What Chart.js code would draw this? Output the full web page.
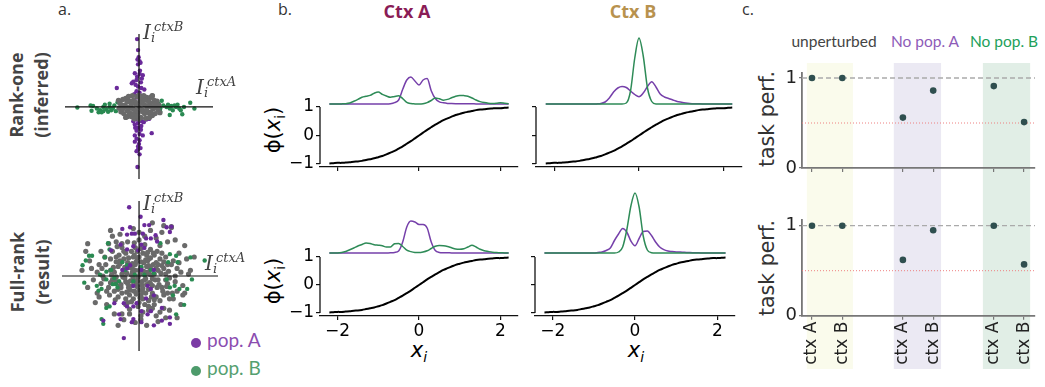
<!DOCTYPE html>
<html><head><meta charset="utf-8">
<script src="https://cdn.jsdelivr.net/npm/chart.js@4/dist/chart.umd.min.js"></script>
<style>
body{margin:0;width:1045px;height:387px;position:relative;background:#fff;overflow:hidden;font-family:'Open Sans',sans-serif}
canvas{position:absolute}
.t{position:absolute;white-space:nowrap;line-height:1}
.rot{position:absolute;white-space:nowrap;transform:translate(-50%,-50%) rotate(-90deg);text-align:center}
.ctr{transform:translateX(-50%)}
</style></head><body>
<div class="t" style="left:58px;top:1px;font-size:16px;color:#333">a.</div>
<div class="t" style="left:278px;top:1px;font-size:16px;color:#333">b.</div>
<div class="t" style="left:742px;top:1px;font-size:16px;color:#333">c.</div>
<div class="rot" style="left:29px;top:95px;font-weight:700;font-size:18px;line-height:25px;color:#444">Rank-one<br>(inferred)</div>
<div class="rot" style="left:30px;top:272px;font-weight:700;font-size:18px;line-height:25px;color:#444">Full-rank<br>(result)</div>
<div class="t ctr" style="left:407px;top:2px;font-weight:700;font-size:18px;color:#8a1c56">Ctx A</div>
<div class="t ctr" style="left:633px;top:2px;font-weight:700;font-size:18px;color:#b8924e">Ctx B</div>
<div class="rot" style="left:275px;top:130px;font-family:'DejaVu Sans';font-size:21px;line-height:1;color:#000">ϕ(<i>x</i><sub style="font-size:14px">i</sub>)</div>
<div class="rot" style="left:275px;top:281px;font-family:'DejaVu Sans';font-size:21px;line-height:1;color:#000">ϕ(<i>x</i><sub style="font-size:14px">i</sub>)</div>
<div class="t ctr" style="left:419px;top:340px;font-family:'DejaVu Sans';font-size:21px;color:#000"><i>x</i><sub style="font-size:14px;font-style:italic">i</sub></div>
<div class="t ctr" style="left:636px;top:340px;font-family:'DejaVu Sans';font-size:21px;color:#000"><i>x</i><sub style="font-size:14px;font-style:italic">i</sub></div>
<div class="rot" style="left:767px;top:119px;font-family:'DejaVu Sans';font-size:20.5px;line-height:1;color:#333">task perf.</div>
<div class="rot" style="left:767px;top:268px;font-family:'DejaVu Sans';font-size:20.5px;line-height:1;color:#333">task perf.</div>
<div class="t ctr" style="left:834px;top:34px;font-family:Lato;font-size:15.5px;color:#444">unperturbed</div>
<div class="t ctr" style="left:925px;top:34px;font-family:Lato;font-size:15.5px;color:#8e5cb8">No pop. A</div>
<div class="t ctr" style="left:1004px;top:34px;font-family:Lato;font-size:15.5px;color:#22a05a">No pop. B</div>
<div style="position:absolute;left:191px;top:338px;width:10px;height:10px;border-radius:50%;background:#7b3ba5"></div>
<div class="t" style="left:207px;top:330px;font-family:Lato;font-size:19px;line-height:20px;color:#8b4db0">pop. A</div>
<div style="position:absolute;left:191px;top:366px;width:10px;height:10px;border-radius:50%;background:#4d9b6b"></div>
<div class="t" style="left:207px;top:358px;font-family:Lato;font-size:19px;line-height:20px;color:#55a070">pop. B</div>
<script>
// ---------- DATA ----------
// panel a: (I_ctxA, I_ctxB) pairs, flat lists
const topGray=[0,0,0.3,0.1,-0.3,-0.1,0.6,0.2,-0.6,-0.2,0.9,0.0,-0.9,0.1,0.2,0.4,-0.2,-0.4,0.5,-0.3,-0.5,0.3,0.8,0.35,-0.8,-0.35,0.1,-0.55,-0.1,0.55,0.4,0.5,-0.4,-0.5,0.7,-0.45,-0.7,0.45,1.0,-0.15,-1.0,0.2,0.15,0.2,-0.15,-0.2,0.45,0.05,-0.45,-0.05,0.75,-0.1,-0.75,0.1,0.3,-0.35,-0.3,0.35,0.6,0.5,-0.6,-0.5,0.95,0.3,-0.95,-0.25,0.05,0.3,-0.05,-0.3,0.35,-0.6,-0.35,0.6,0.85,-0.35,-0.85,0.4,0.25,0.6,-0.25,-0.62,0.55,-0.55,-0.55,0.55,0.65,0.0,-0.65,0.0,0.15,-0.15,-0.15,0.15,1.05,0.1,-1.05,-0.05,0.5,0.3,-0.5,-0.3,0.2,-0.25,-0.2,0.25,0.7,0.6,-0.7,-0.55,0.0,0.62,0.0,-0.64,0.4,-0.15,-0.4,0.15,0.85,0.15,-0.85,-0.1,0.3,0.35,-0.3,-0.35,0.62,-0.28,-0.62,0.28,0.7,0.58,1.1,-0.3,-1.08,0.35,0.12,0.48,-0.12,-0.48];
const topPopA=[-0.10,3.58,-0.05,3.00,-0.02,2.62,-0.08,2.50,0.03,2.42,0.08,2.33,-0.05,2.25,0.05,1.92,-0.22,1.78,0.03,1.75,0.20,1.67,-0.10,1.60,0.15,1.50,-0.13,1.42,-0.30,1.33,0.10,1.30,-0.38,1.25,-0.18,1.17,-0.05,1.08,0.12,1.00,-1.17,1.00,0.28,0.92,-0.13,0.83,0.03,0.75,-0.25,0.67,0.15,0.58,-0.13,0.50,0.20,0.42,-0.08,-0.67,0.15,-0.75,0.37,-0.67,0.53,-0.63,-0.30,-0.75,0.25,-0.80,-0.05,-0.85,-0.22,-0.92,0.12,-1.00,-0.05,-1.08,-0.20,-1.10,0.10,-1.20,-0.13,-1.25,0.67,-1.38,0.03,-1.42,0.20,-1.50,-0.22,-1.50,-0.13,-1.67,0.03,-1.75,-0.22,-1.83,0.00,-1.95,-0.05,-2.08,0.08,-2.17,-0.05,-2.25,-0.13,-2.33,0.03,-2.50,-0.08,-3.17];
const topPopB=[-3.25,-0.03,-2.55,0.08,-2.42,0.05,-2.50,-0.20,-2.22,-0.08,-2.13,-0.28,-2.05,-0.17,-1.97,-0.28,-1.88,-0.22,-1.88,0.00,-1.80,0.12,-1.72,-0.12,-1.63,-0.25,-1.55,0.00,-1.55,0.17,-1.47,-0.17,-1.38,-0.08,-1.30,0.08,-1.22,-0.22,-1.13,0.25,-1.05,-0.08,0.95,0.00,1.03,0.17,1.12,-0.08,1.12,-0.25,1.20,0.33,1.28,0.08,1.45,0.00,1.53,0.12,1.62,-0.08,1.62,-0.42,1.70,0.05,1.78,-0.17,1.87,0.08,1.95,0.00,2.03,0.12,2.12,-0.08,2.20,-0.17,2.28,-0.38,2.37,0.00,2.70,0.22,2.92,-0.08];
const botGray=[0.05,0.1,-0.2,0.3,0.35,-0.15,-0.45,-0.25,0.6,0.4,-0.1,-0.55,0.25,0.7,-0.65,0.15,0.7,-0.5,-0.35,0.65,0.15,-0.3,-0.05,-0.05,0.45,0.2,-0.55,-0.6,0.1,0.45,-0.3,-0.1,0.5,-0.7,-0.75,0.45,0.3,0.05,-0.15,0.75,0.65,0.05,-0.4,0.05,0.2,-0.65,-0.7,-0.3,0.75,0.6,-0.25,-0.8,0.4,0.5,-0.6,0.7,0.0,0.3,0.55,-0.35,-0.15,-0.35,0.35,0.85,-0.85,-0.05,0.85,-0.2,0.0,-0.75,
1.0,0.3,-1.1,0.5,0.2,1.2,-0.3,-1.2,1.2,-0.6,-0.9,-0.9,0.8,1.1,-0.7,1.2,1.4,0.1,-1.4,-0.2,0.5,-1.3,-1.2,1.0,1.1,0.9,-0.2,1.5,0.9,-1.1,-1.5,0.3,1.5,0.6,-0.6,-1.4,0.0,1.0,1.3,-1.0,-1.0,-0.5,0.6,1.4,-1.3,-0.8,1.0,-0.2,-0.4,1.3,0.3,-1.5,-1.5,0.9,1.5,-0.4,-0.8,0.9,0.9,0.7,0.1,-1.0,-1.1,-1.1,1.2,1.2,-0.1,1.3,0.7,-0.9,-1.3,0.2,1.4,1.0,-0.9,1.5,0.4,1.1,-0.5,-1.0,1.6,-0.1,-1.6,-0.6,0.2,-1.2,-0.3,1.0,1.1,-1.3,-1.2,-0.3,0.5,0.9,-0.9,0.1,1.0,0.6,-0.7,-1.2,0.8,-1.5,-1.4,1.3,1.3,0.4,-1.0,0.8,0.0,-1.4,
2.0,0.4,-2.1,0.6,0.3,2.1,-0.5,-2.0,1.8,-1.2,-1.7,-1.5,1.5,1.8,-1.6,1.7,2.3,-0.5,-2.4,-0.2,0.9,-2.1,-1.0,2.2,2.1,1.2,-2.0,1.3,0.1,-2.3,1.2,2.3,-2.2,-0.9,2.5,0.9,-0.8,-2.3,1.6,-1.8,-1.9,0.0,0.6,2.4,-2.6,0.8,2.2,-1.5,-1.3,-2.0,1.9,0.0,-0.3,2.5,2.7,0.3,-2.8,1.3,0.4,-2.6,1.0,-2.4,-1.5,2.4,2.4,1.6,-2.3,-1.4,1.7,2.6,-2.7,1.7,2.9,1.0,-3.0,0.3,0.7,2.8,2.0,-2.2,-1.1,-2.6,1.3,-1.7,-1.8,1.0,1.8,0.8,-0.6,1.8,0.5,-1.8,-2.0,-0.4,2.2,0.2,1.5,-0.9,-1.2,1.8,1.3,2.65,1.7,2.55,2.3,-1.0,
0.25,0.25,-0.35,0.4,0.5,0.55,-0.6,-0.4,0.15,-0.5,-0.2,0.6,0.7,-0.15,-0.8,0.25,0.4,-0.45,-0.45,-0.75,0.9,0.4,-0.1,0.95,0.35,-0.9,-0.95,-0.45,0.6,0.95,-0.55,0.95,1.05,-0.45,-1.0,0.65,0.05,-1.15,1.15,0.15,-1.2,-0.05,0.45,1.25,-0.4,-1.35,1.25,-0.8,-1.1,-0.7,0.8,-1.25,-0.8,1.3,1.3,0.75,-1.35,0.45,0.1,1.45,-0.05,-1.6,1.55,0.25,-1.5,-0.35,0.65,-1.1,-0.65,-0.85,0.95,1.3,-1.05,1.1,1.45,-0.55,-1.25,-1.25,0.3,1.65,-0.25,1.75,1.7,0.6,-1.75,0.6,0.7,-1.7,-0.5,-1.75,1.6,-1.2,-1.55,-1.0,1.1,1.6,-1.15,1.55,1.9,-0.3,-1.85,-0.15,0.0,1.9,0.2,-1.9,-1.95,0.4,2.0,-0.8,
-0.35,0.2,0.55,0.1,-0.1,-0.25,0.3,-0.2,-0.55,0.45,0.8,0.1,-0.75,-0.1,0.1,0.75,-0.15,-0.95,0.45,0.8,-0.35,-0.5,0.95,-0.6,-0.95,-0.6,0.6,-0.4,-0.25,1.1,0.2,-0.85,1.2,0.55,-1.2,0.75,0.75,1.2,-0.7,-1.5,1.4,-0.2,-1.45,0.05,0.5,-1.6,-0.9,1.7,1.75,-0.9,-1.7,-0.8,2.1,0.7,-2.2,0.2,0.9,2.0,-0.9,-2.0,1.4,-2.2,-1.4,2.1,2.4,-0.9,-2.5,0.4,0.0,2.3,0.1,-2.1,1.9,1.9,-2.1,-1.1,2.6,0.1,-2.7,-0.6,1.1,-1.9,-0.2,-2.45];
const botPopA=[-0.52,3.62,0.08,3.12,0.53,2.68,0.28,2.68,1.28,2.95,1.45,2.57,1.70,2.60,1.62,2.32,-0.47,2.57,-0.38,2.23,-0.22,2.23,-0.63,2.18,-0.88,2.48,0.20,2.23,0.37,1.98,0.62,1.98,0.87,2.15,0.95,1.82,0.12,1.65,0.28,1.48,-0.05,1.35,-0.30,1.57,-0.63,1.40,-0.97,1.65,-1.47,1.35,-0.88,0.32,-0.63,0.40,-0.47,0.57,0.12,0.32,0.78,0.32,-0.30,-0.52,0.45,-0.52,0.62,-0.68,0.78,-1.02,0.37,-1.18,-0.80,-1.43,-0.63,-1.60,-0.30,-1.60,-0.13,-1.43,0.12,-1.85,0.62,-1.85,-1.30,-1.43,-1.05,-2.02,-0.97,-2.27,-0.38,-2.43,-0.30,-2.27,0.12,-2.43,0.78,-2.60,1.20,-2.35,1.62,-2.52,-1.88,-2.35,-0.80,-3.27,0.45,-2.02,1.20,-1.68,1.62,-2.18];
const botPopB=[-2.97,0.57,-2.80,0.82,-2.63,1.07,-2.47,1.07,-2.88,-0.35,-2.22,-0.52,-2.13,-0.77,-1.97,-0.68,-1.72,-1.68,-1.55,-1.60,-1.88,-2.52,-1.97,-2.27,-1.63,1.73,-1.55,1.40,-1.80,0.98,-1.72,0.23,-1.47,0.32,-1.38,-0.43,-1.22,-0.43,-1.13,-0.60,-1.05,-0.27,-1.72,-0.18,-1.30,-0.10,-0.88,0.73,-0.63,0.57,-0.72,0.32,0.12,0.48,0.62,0.32,0.78,0.15,0.28,0.07,1.12,1.73,1.53,0.73,1.62,1.15,1.95,1.07,2.03,0.73,2.70,0.98,3.45,0.82,1.45,-0.18,1.62,-0.60,1.87,-0.52,2.12,-0.68,2.37,-1.52,1.95,-2.02,2.53,-0.68,2.78,-0.18,1.78,-1.02,-2.05,0.07,-0.22,0.07,-0.30,-0.27];

// panel b: x grid, phi(x), population densities (arbitrary units)
const xGrid=[-2.2,-2.1,-2.0,-1.9,-1.8,-1.7,-1.6,-1.5,-1.4,-1.3,-1.2,-1.1,-1.0,-0.9,-0.8,-0.7,-0.6,-0.5,-0.4,-0.3,-0.2,-0.1,0,0.1,0.2,0.3,0.4,0.5,0.6,0.7,0.8,0.9,1.0,1.1,1.2,1.3,1.4,1.5,1.6,1.7,1.8,1.9,2.0,2.1,2.2];
const phiVals=[-0.98,-0.97,-0.96,-0.96,-0.95,-0.94,-0.92,-0.91,-0.89,-0.86,-0.83,-0.80,-0.76,-0.72,-0.66,-0.60,-0.54,-0.46,-0.38,-0.29,-0.20,-0.10,0,0.10,0.20,0.29,0.38,0.46,0.54,0.60,0.66,0.72,0.76,0.80,0.83,0.86,0.89,0.91,0.92,0.94,0.95,0.96,0.96,0.97,0.98];
const densA_rank1_popA=[0,0,0,0,0,0,0,0,0,0,0,0,0,0,0,0.3,1.4,4,14.7,24,27,23,19,24,25.5,13.3,5.5,2.2,1.2,0.6,0.4,0.3,0.3,0.2,0.2,0.2,0.1,0.1,0.1,0.1,0,0,0,0,0];
const densA_rank1_popB=[0,0,0,0.1,0.3,1,2.7,4.6,6.8,7.8,8.6,10.8,12,9.7,8,6.7,7.5,8.2,5.4,1.6,0.4,0.1,0,0.3,1.4,3.5,6,5.2,3.8,4.6,6.2,7.8,8.6,8.4,7.8,6,4,2.4,1.4,0.8,0.6,0.8,1.3,0.8,0.3];
const densB_rank1_popA=[0,0,0,0,0,0,0,0,0,0,0,0,0.1,0.4,2,6,12,16,17.5,16.5,13,9.5,7.3,11,17.5,22.3,17,10,7,5.5,4,2.6,1.8,1.1,0.6,0.3,0.2,0.1,0.1,0,0,0,0,0,0];
const densB_rank1_popB=[0,0,0,0,0,0,0,0,0,0,0,0,0,0,0,0,0,0,0,1,13,46,66,48,16,2.5,0,0,0,0,0,0,0,0,0,0,0,0,0,0,0,0,0,0,0];
const densA_full_popA=[0,0,0,0,0,0,0,0,0,0,0,0,0,0,0,0.2,0.6,2,11,26,32,31,28.5,28.5,25,11,2.5,0.6,0.3,0.2,0.1,0,0,0,0,0,0,0,0,0,0,0,0,0,0];
const densA_full_popB=[0,0,0.1,0.5,1.5,3.2,5,7,8.5,10,9.5,8.3,7.8,7.2,6,6,9.3,9.6,6.5,2.8,1.4,0.6,0.4,1,2.2,4.5,6.8,7.6,7.3,6.5,5.2,4,3.8,4.3,6,7.7,6,3.8,2.3,1.5,0.8,0.4,0.3,0.1,0];
const densB_full_popA=[0,0,0,0,0,0,0,0,0,0,0,0,0,0.5,1,2.5,5,12.5,19,24.5,21,12,7.3,14.5,21.5,22,17.5,11,6,3.3,2,1.5,1.1,0.9,0.7,0.5,0.3,0.2,0.1,0,0,0,0,0,0];
const densB_full_popB=[0,0,0,0,0,0,0,0,0,0,0,0,0,0,0,0,0,0,1,6,23,47,60,46,17,3,0.3,0,0,0,0,0,0,0,0,0,0,0,0,0,0,0,0,0,0];
const phiTicks=[-1,0,1], phiTickLabels=['−1','0','1'];
const xTicks=[-2,0,2], xTickLabels=['−2','0','2'];

// panel c
const catPos=[0,1,3,4,6,7];
const catLabels=['ctx A','ctx B','ctx A','ctx B','ctx A','ctx B'];
const perfRankOne=[1.0,1.0,0.56,0.86,0.91,0.51];
const perfFullRank=[1.0,1.0,0.62,0.95,1.0,0.57];
const perfTicks=[0,1], perfTickLabels=['0','1'];
const groupBands=[[-0.17,1.35],[2.7,4.26],[5.64,7.2]];

// ---------- HELPERS ----------
const PURPLE='#6a2a9a', GREEN='#2a8a52', GRAY='#6a6a6a';
const PURPLE_L='#7640aa', GREEN_L='#2e8b57';
function mk(l,t,w,h){const c=document.createElement('canvas');c.width=w;c.height=h;c.style.left=l+'px';c.style.top=t+'px';c.style.width=w+'px';c.style.height=h+'px';document.body.appendChild(c);return c;}
function pts(a){const r=[];for(let i=0;i<a.length;i+=2)r.push({x:a[i],y:a[i+1]});return r;}
function common(){return {responsive:false,animation:false,devicePixelRatio:1,events:[],plugins:{legend:{display:false},tooltip:{enabled:false}}};}
function fit(prop,v){return s=>{s[prop]=v;s.paddingTop=0;s.paddingBottom=0;s.paddingLeft=0;s.paddingRight=0;};}
function tk(vals){return s=>{s.ticks=vals.map(v=>({value:v}));};}
function lab(vals,labels){return v=>{const i=vals.indexOf(v);return i<0?'':labels[i];};}

// ---------- PANEL A ----------
const crossPlugin={id:'cross',afterDatasetsDraw(ch){const {ctx,chartArea:a,scales:{x,y}}=ch;ctx.save();ctx.strokeStyle='#111';ctx.lineWidth=1.2;ctx.beginPath();const x0=x.getPixelForValue(0),y0=y.getPixelForValue(0);ctx.moveTo(a.left,y0);ctx.lineTo(a.right,y0);ctx.moveTo(x0,a.top);ctx.lineTo(x0,a.bottom);ctx.stroke();ctx.restore();}};
function aPanel(l,t,w,h,xr,yr,sets){
  new Chart(mk(l,t,w,h),{type:'scatter',
    data:{datasets:sets.map(s=>({data:pts(s.d),backgroundColor:s.c,borderWidth:0,pointRadius:s.r,clip:false}))},
    options:Object.assign(common(),{layout:{padding:0},scales:{x:{type:'linear',display:false,min:xr[0],max:xr[1]},y:{type:'linear',display:false,min:yr[0],max:yr[1]}}}),
    plugins:[crossPlugin]});
}
aPanel(61,30,156,153,[-3.9,3.9],[-3.8,3.85],[{d:topGray,c:GRAY,r:2.7},{d:topPopA,c:PURPLE,r:2.2},{d:topPopB,c:GREEN,r:2.2}]);
aPanel(58,197,164,158,[-4.05,4.15],[-3.95,3.95],[{d:botPopA,c:PURPLE,r:2.2},{d:botPopB,c:GREEN,r:2.2},{d:botGray,c:GRAY,r:2.6}]);

// ---------- PANEL B ----------
const spinePlugin={id:'spine',afterDraw(ch){const y=ch.scales.y,ctx=ch.ctx,x=ch.chartArea.left;ctx.save();ctx.strokeStyle='#111';ctx.lineWidth=1.3;ctx.beginPath();ctx.moveTo(x,y.getPixelForValue(1));ctx.lineTo(x,y.getPixelForValue(-1));ctx.stroke();ctx.restore();}};
const B_W=50,B_PR=4;
function bPanel(aL,aT,aW,aH,xH,yr,y2r,popA,popB,yLab,xLab){
  const font={family:'DejaVu Sans',size:17};
  new Chart(mk(aL-B_W,aT,B_W+aW+B_PR,aH+xH),{type:'line',
    data:{datasets:[
      {data:xGrid.map((x,i)=>({x,y:popB[i]})),borderColor:GREEN_L,borderWidth:1.5,pointRadius:0,yAxisID:'y2',cubicInterpolationMode:'monotone'},
      {data:xGrid.map((x,i)=>({x,y:popA[i]})),borderColor:PURPLE_L,borderWidth:1.5,pointRadius:0,yAxisID:'y2',cubicInterpolationMode:'monotone'},
      {data:xGrid.map((x,i)=>({x,y:phiVals[i]})),borderColor:'#000',borderWidth:2,pointRadius:0,yAxisID:'y',tension:0.3}
    ]},
    options:Object.assign(common(),{layout:{padding:{left:0,top:0,right:B_PR,bottom:0}},
      scales:{
        x:{type:'linear',min:-2.43,max:2.43,afterBuildTicks:tk(xTicks),afterFit:fit('height',xH),
           grid:{drawOnChartArea:false,drawTicks:true,tickLength:4,color:'#111',lineWidth:1.2},
           border:{display:true,color:'#111',width:1.3},
           ticks:{display:xLab,padding:1,font,color:'#000',callback:lab(xTicks,xTickLabels)}},
        y:{type:'linear',position:'left',min:yr[0],max:yr[1],afterBuildTicks:tk(phiTicks),afterFit:fit('width',B_W),
           grid:{drawOnChartArea:false,drawTicks:true,tickLength:4,color:'#111',lineWidth:1.2},
           border:{display:false},
           ticks:{display:yLab,padding:2,font,color:'#000',callback:lab(phiTicks,phiTickLabels)}},
        y2:{type:'linear',display:false,min:y2r[0],max:y2r[1]}
      }}),
    plugins:[spinePlugin]});
}
bPanel(320,25,198,142,10,[-1.105,3.877],[-63,79],densA_rank1_popA,densA_rank1_popB,true,false);
bPanel(536,25,206,142,10,[-1.105,3.877],[-63,79],densB_rank1_popA,densB_rank1_popB,false,false);
bPanel(320,185,198,131,30,[-1.107,3.571],[-63,68],densA_full_popA,densA_full_popB,true,true);
bPanel(535,185,200,131,30,[-1.107,3.571],[-63,68],densB_full_popA,densB_full_popB,false,true);

// ---------- PANEL C ----------
const BAND_COLORS=['#fafbec','#ebe9f3','#e1eee6'];
const bandPlugin={id:'bands',beforeDraw(ch){const x=ch.scales.x,ctx=ch.ctx;ctx.save();groupBands.forEach((b,i)=>{const x0=x.getPixelForValue(b[0]),x1=x.getPixelForValue(b[1]);ctx.fillStyle=BAND_COLORS[i];ctx.fillRect(x0,63,x1-x0,306);});ctx.restore();}};
const refPlugin={id:'refs',beforeDatasetsDraw(ch){const {ctx,chartArea:a,scales:{y}}=ch;ctx.save();
  ctx.strokeStyle='#aaaaaa';ctx.lineWidth=1.3;ctx.setLineDash([5,3]);ctx.beginPath();const y1=y.getPixelForValue(1);ctx.moveTo(a.left,y1);ctx.lineTo(a.right,y1);ctx.stroke();
  ctx.strokeStyle='#ee8080';ctx.lineWidth=1;ctx.setLineDash([1,2]);ctx.beginPath();const yh=y.getPixelForValue(0.5);ctx.moveTo(a.left,yh);ctx.lineTo(a.right,yh);ctx.stroke();
  ctx.restore();}};
function cPanel(cTop,cH,padTop,xH,perf,xLab,extra){
  new Chart(mk(740,cTop,300,cH),{type:'scatter',
    data:{datasets:[{data:catPos.map((x,i)=>({x,y:perf[i]})),backgroundColor:'#2f4f4f',borderWidth:0,pointRadius:3.3,clip:false}]},
    options:Object.assign(common(),{layout:{padding:{left:0,top:padTop,right:5,bottom:0}},
      scales:{
        x:{type:'linear',min:-0.33,max:7.36,afterBuildTicks:tk(catPos),afterFit:fit('height',xH),
           grid:{drawOnChartArea:false,drawTicks:true,tickLength:4,color:'#777',lineWidth:1.2},
           border:{display:true,color:'#777',width:1.8},
           ticks:{display:xLab,autoSkip:false,minRotation:90,maxRotation:90,padding:2,font:{family:'DejaVu Sans',size:17},color:'#222',callback:lab(catPos,catLabels)}},
        y:{type:'linear',min:0,max:1.06,afterBuildTicks:tk(perfTicks),afterFit:fit('width',62),
           grid:{drawOnChartArea:false,drawTicks:true,tickLength:3,color:'#777',lineWidth:1.2},
           border:{display:true,color:'#777',width:1.8},
           ticks:{padding:2,font:{family:'DejaVu Sans',size:18},color:'#222',callback:lab(perfTicks,perfTickLabels)}}
      }}),
    plugins:extra});
}
cPanel(0,387,72.6,219,perfRankOne,false,[bandPlugin,refPlugin]);
cPanel(200,187,20.3,71.3,perfFullRank,true,[refPlugin]);

// ---------- math labels I_i^{ctx} ----------
function addI(l,capTop,sup){
  const d=document.createElement('div');d.style.cssText='position:absolute;left:'+l+'px;top:'+(capTop-2.5)+'px;font-family:"DejaVu Serif";font-style:italic;color:#444;line-height:1;white-space:nowrap';
  d.innerHTML='<span style="position:absolute;left:0;top:0;font-size:20px">I</span><span style="position:absolute;left:11px;top:-2px;font-size:13px">'+sup+'</span><span style="position:absolute;left:8px;top:9px;font-size:13px">i</span>';
  document.body.appendChild(d);
}
addI(143,24,'ctxB');addI(196,79,'ctxA');addI(143,195,'ctxB');addI(205,255,'ctxA');
</script>
</body></html>
